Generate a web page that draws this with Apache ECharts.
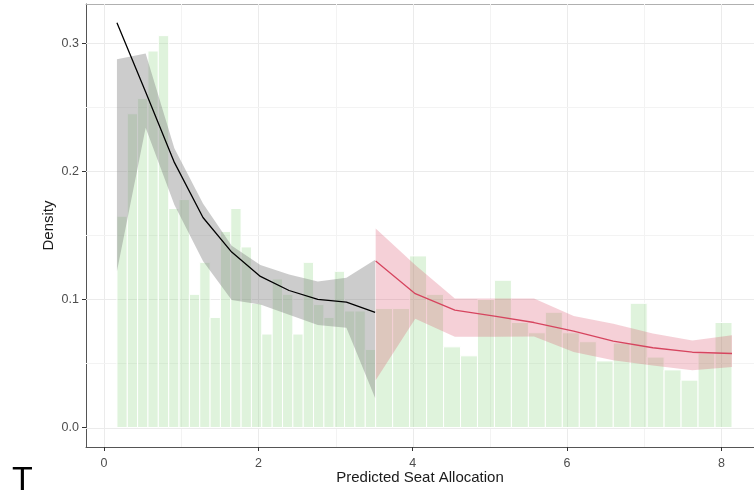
<!DOCTYPE html>
<html><head><meta charset="utf-8">
<script src="https://cdn.jsdelivr.net/npm/echarts@6/dist/echarts.min.js"></script>
<style>html,body{margin:0;padding:0;background:#fff}#c{width:754px;height:493px}</style>
</head><body><div id="c"></div>
<script>
// ---- data ----
const leftBinEdges = [0.167,0.301,0.435,0.569,0.703,0.838,0.972,1.106,1.240,1.374,1.508,1.642,1.776,1.910,2.044,2.179,2.313,2.447,2.581,2.715,2.849,2.983,3.117,3.251,3.385,3.520];
const leftDensity = [0.165,0.245,0.257,0.294,0.306,0.171,0.178,0.104,0.129,0.086,0.153,0.171,0.141,0.097,0.073,0.116,0.104,0.073,0.129,0.096,0.086,0.122,0.091,0.091,0.061];
const rightBinEdges = [3.520,3.740,3.960,4.180,4.400,4.620,4.839,5.059,5.279,5.499,5.719,5.939,6.159,6.379,6.599,6.819,7.038,7.258,7.478,7.698,7.918,8.138];
const rightDensity = [0.093,0.093,0.134,0.104,0.063,0.056,0.100,0.115,0.082,0.074,0.090,0.074,0.067,0.052,0.066,0.097,0.055,0.045,0.037,0.058,0.082];

const blackX  = [0.167,0.539,0.911,1.282,1.654,2.026,2.398,2.770,3.141,3.513];
const blackY  = [0.316,0.262,0.207,0.164,0.137,0.118,0.107,0.100,0.098,0.090];
const blackLo = [0.122,0.234,0.174,0.130,0.0995,0.096,0.088,0.080,0.078,0.023];
const blackHi = [0.2875,0.292,0.218,0.175,0.142,0.127,0.1195,0.114,0.117,0.131];

const redX  = [3.520,4.033,4.546,5.059,5.572,6.086,6.599,7.112,7.625,8.138];
const redY  = [0.130,0.1045,0.0916,0.087,0.082,0.0753,0.0675,0.0623,0.0588,0.0578];
const redLo = [0.037,0.085,0.0708,0.0708,0.071,0.059,0.0526,0.0485,0.0448,0.0473];
const redHi = [0.1555,0.127,0.1008,0.1008,0.1008,0.087,0.081,0.0735,0.068,0.072];

const xBreaks = [0,2,4,6,8];
const yBreaks = [0,0.1,0.2,0.3];
const xMinorBreaks = [1,3,5,7];
const yMinorBreaks = [0.05,0.15,0.25];
const xRange = [-0.234, 8.423];
const yRange = [-0.0152, 0.3307];

// ---- build ----
function binItems(edges, dens){
  return dens.map((d,i)=>[edges[i], edges[i+1], d]);
}
const barData = binItems(leftBinEdges, leftDensity).concat(binItems(rightBinEdges, rightDensity));

function renderBar(params, api){
  const p0 = api.coord([api.value(0), api.value(2)]);
  const p1 = api.coord([api.value(1), 0]);
  return {type:'rect', shape:{x:p0[0], y:p0[1], width:p1[0]-p0[0], height:p1[1]-p0[1]},
    style:{fill:'rgba(150,215,140,0.3)', stroke:'#ffffff', lineWidth:1}};
}
function ribbon(xs, lo, hi, fill){
  return function(params, api){
    const pts = [];
    for (let i=0;i<xs.length;i++) pts.push(api.coord([xs[i], hi[i]]));
    for (let i=xs.length-1;i>=0;i--) pts.push(api.coord([xs[i], lo[i]]));
    return {type:'polygon', shape:{points:pts}, style:{fill:fill}};
  };
}
const pairs = (xs, ys) => xs.map((x,i)=>[x, ys[i]]);

// grid lines: [value, isX, isMajor]
const gridData = []
  .concat(xBreaks.map(v=>[v,1,1])).concat(xMinorBreaks.map(v=>[v,1,0]))
  .concat(yBreaks.map(v=>[v,0,1])).concat(yMinorBreaks.map(v=>[v,0,0]));
function renderGrid(params, api){
  const v = api.value(0), isX = api.value(1), major = api.value(2);
  const cs = params.coordSys;
  let shape;
  if (isX) {
    const px = Math.round(api.coord([v, 0])[0]) + 0.5;
    shape = {x1:px, y1:cs.y, x2:px, y2:cs.y+cs.height};
  } else {
    const py = Math.round(api.coord([0, v])[1]) + 0.5;
    shape = {x1:cs.x, y1:py, x2:cs.x+cs.width, y2:py};
  }
  return {type:'line', shape:shape, style:{stroke: major ? '#ebebeb' : '#f3f3f3', lineWidth:1}};
}

const chart = echarts.init(document.getElementById('c'), null, {renderer:'canvas'});
chart.setOption({
  animation:false,
  backgroundColor:'#ffffff',
  grid:{left:86, top:4, right:0, bottom:46, containLabel:false},
  xAxis:[{
    type:'value', min:xRange[0], max:xRange[1], splitNumber:4, position:'bottom',
    name:'Predicted Seat Allocation', nameLocation:'middle', nameGap:23, nameMoveOverlap:false,
    nameTextStyle:{color:'#1a1a1a', fontSize:15, fontFamily:'Liberation Sans'},
    axisLine:{show:true, onZero:false, lineStyle:{color:'#555555', width:1}},
    axisTick:{show:true, length:4, customValues:xBreaks, lineStyle:{color:'#333333'}},
    axisLabel:{color:'#4d4d4d', fontSize:12.5, fontFamily:'Liberation Sans', margin:10,
      customValues:xBreaks, formatter:v=>String(Math.round(v))},
    splitLine:{show:false}
  },{
    type:'value', position:'top', min:xRange[0], max:xRange[1],
    axisLine:{show:true, onZero:false, lineStyle:{color:'#b0b0b0', width:1}},
    axisTick:{show:false}, axisLabel:{show:false}, splitLine:{show:false}
  }],
  yAxis:{
    type:'value', min:yRange[0], max:yRange[1], splitNumber:3, position:'left',
    name:'Density', nameLocation:'middle', nameGap:30, nameRotate:90, nameMoveOverlap:false,
    nameTextStyle:{color:'#1a1a1a', fontSize:15, fontFamily:'Liberation Sans'},
    axisLine:{show:true, onZero:false, lineStyle:{color:'#555555', width:1}},
    axisTick:{show:true, length:4, customValues:yBreaks, lineStyle:{color:'#333333'}},
    axisLabel:{color:'#4d4d4d', fontSize:12.5, fontFamily:'Liberation Sans', margin:7,
      customValues:yBreaks, formatter:v=>(Math.round(v*10)/10).toFixed(1)},
    splitLine:{show:false}
  },
  series:[
    {type:'custom', renderItem:renderGrid, data:gridData, z:1, silent:true, clip:true},
    {type:'custom', renderItem:renderBar, data:barData, encode:{x:[0,1], y:2}, z:2, silent:true},
    {type:'custom', renderItem:ribbon(blackX, blackLo, blackHi, 'rgba(128,128,128,0.4)'), data:[0], z:3, silent:true},
    {type:'custom', renderItem:ribbon(redX, redLo, redHi, 'rgba(214,69,95,0.25)'), data:[0], z:3, silent:true},
    {type:'line', data:pairs(blackX, blackY), symbol:'none', z:4, lineStyle:{color:'#000000', width:1.3}},
    {type:'line', data:pairs(redX, redY), symbol:'none', z:4, lineStyle:{color:'#d6455f', width:1.3}}
  ],
  graphic:[{type:'text', left:12, top:464, style:{text:'T', fill:'#000', fontSize:34, fontFamily:'DejaVu Sans ExtraLight, Liberation Sans', fontWeight:'lighter'}}]
});
</script></body></html>
